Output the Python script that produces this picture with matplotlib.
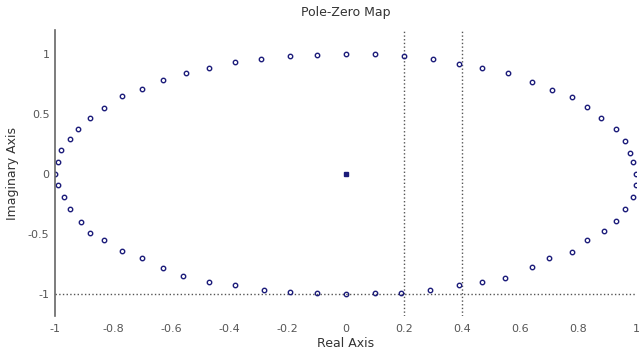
import numpy as np
import matplotlib
matplotlib.use('Agg')
import matplotlib.pyplot as plt

# pole/zero locations (upper half, left -> right)
x_top = [-1.00, -0.99, -0.98, -0.95, -0.92, -0.88, -0.83, -0.77, -0.70, -0.63, -0.55,
         -0.47, -0.38, -0.29, -0.19, -0.10, 0.00, 0.10, 0.20, 0.30, 0.39, 0.47,
         0.56, 0.64, 0.71, 0.78, 0.83, 0.88, 0.93, 0.96, 0.98, 0.99, 1.00]
y_top = [0.00, 0.10, 0.20, 0.29, 0.38, 0.47, 0.55, 0.65, 0.71, 0.78, 0.84,
         0.88, 0.93, 0.96, 0.98, 0.99, 1.00, 1.00, 0.98, 0.96, 0.92, 0.88,
         0.84, 0.77, 0.70, 0.64, 0.56, 0.47, 0.38, 0.28, 0.18, 0.10, 0.00]
# lower half, right -> left
x_bot = [1.00, 0.99, 0.96, 0.93, 0.89, 0.83, 0.78, 0.70, 0.64, 0.55, 0.47,
         0.39, 0.29, 0.19, 0.10, 0.00, -0.10, -0.19, -0.28, -0.38, -0.47,
         -0.56, -0.63, -0.70, -0.77, -0.83, -0.88, -0.91, -0.95, -0.97, -0.99]
y_bot = [-0.09, -0.19, -0.29, -0.39, -0.47, -0.55, -0.65, -0.70, -0.77, -0.86, -0.90,
         -0.92, -0.96, -0.99, -0.99, -1.00, -0.99, -0.98, -0.96, -0.92, -0.90,
         -0.85, -0.78, -0.70, -0.64, -0.55, -0.49, -0.40, -0.29, -0.19, -0.09]
x_center = [0.0]
y_center = [0.0]

x_ticks = [-1, -0.8, -0.6, -0.4, -0.2, 0, 0.2, 0.4, 0.6, 0.8, 1]
x_ticklabels = ['-1', '-0.8', '-0.6', '-0.4', '-0.2', '0', '0.2', '0.4', '0.6', '0.8', '1']
y_ticks = [-1, -0.5, 0, 0.5, 1]
y_ticklabels = ['-1', '-0.5', '0', '0.5', '1']
vlines_x = [0.2, 0.4]
hline_y = -1

fig = plt.figure(figsize=(6.4, 3.56), dpi=100)
ax = fig.add_axes([0.086, 0.112, 0.908, 0.804])

ax.axhline(hline_y, color='#555555', ls=':', lw=1.0)
for v in vlines_x:
    ax.axvline(v, color='#555555', ls=':', lw=1.0)

mk = dict(ls='none', marker='o', ms=3.2, mfc='none', mec='#1c1c7a', mew=1.0)
ax.plot(x_top, y_top, **mk)
ax.plot(x_bot, y_bot, **mk)
ax.plot(x_center, y_center, ls='none', marker='s', ms=2.5, color='#1c1c7a')

ax.set_xlim(-1.0, 1.0)
ax.set_ylim(-1.18, 1.2)
ax.set_xticks(x_ticks)
ax.set_xticklabels(x_ticklabels)
ax.set_yticks(y_ticks)
ax.set_yticklabels(y_ticklabels)

for s in ['top', 'right', 'bottom']:
    ax.spines[s].set_visible(False)
ax.spines['left'].set_color('#666666')
ax.spines['left'].set_linewidth(1.2)
ax.tick_params(axis='both', length=0, labelsize=8, colors='#555555', pad=6)
ax.tick_params(axis='y', pad=4)

ax.set_title('Pole-Zero Map', fontsize=9, color='#333333', pad=10)
ax.set_xlabel('Real Axis', fontsize=9, color='#333333', labelpad=2)
ax.set_ylabel('Imaginary Axis', fontsize=9, color='#333333')
ax.yaxis.set_label_coords(-0.062, 0.5)

fig.savefig('out.png', dpi=100)
